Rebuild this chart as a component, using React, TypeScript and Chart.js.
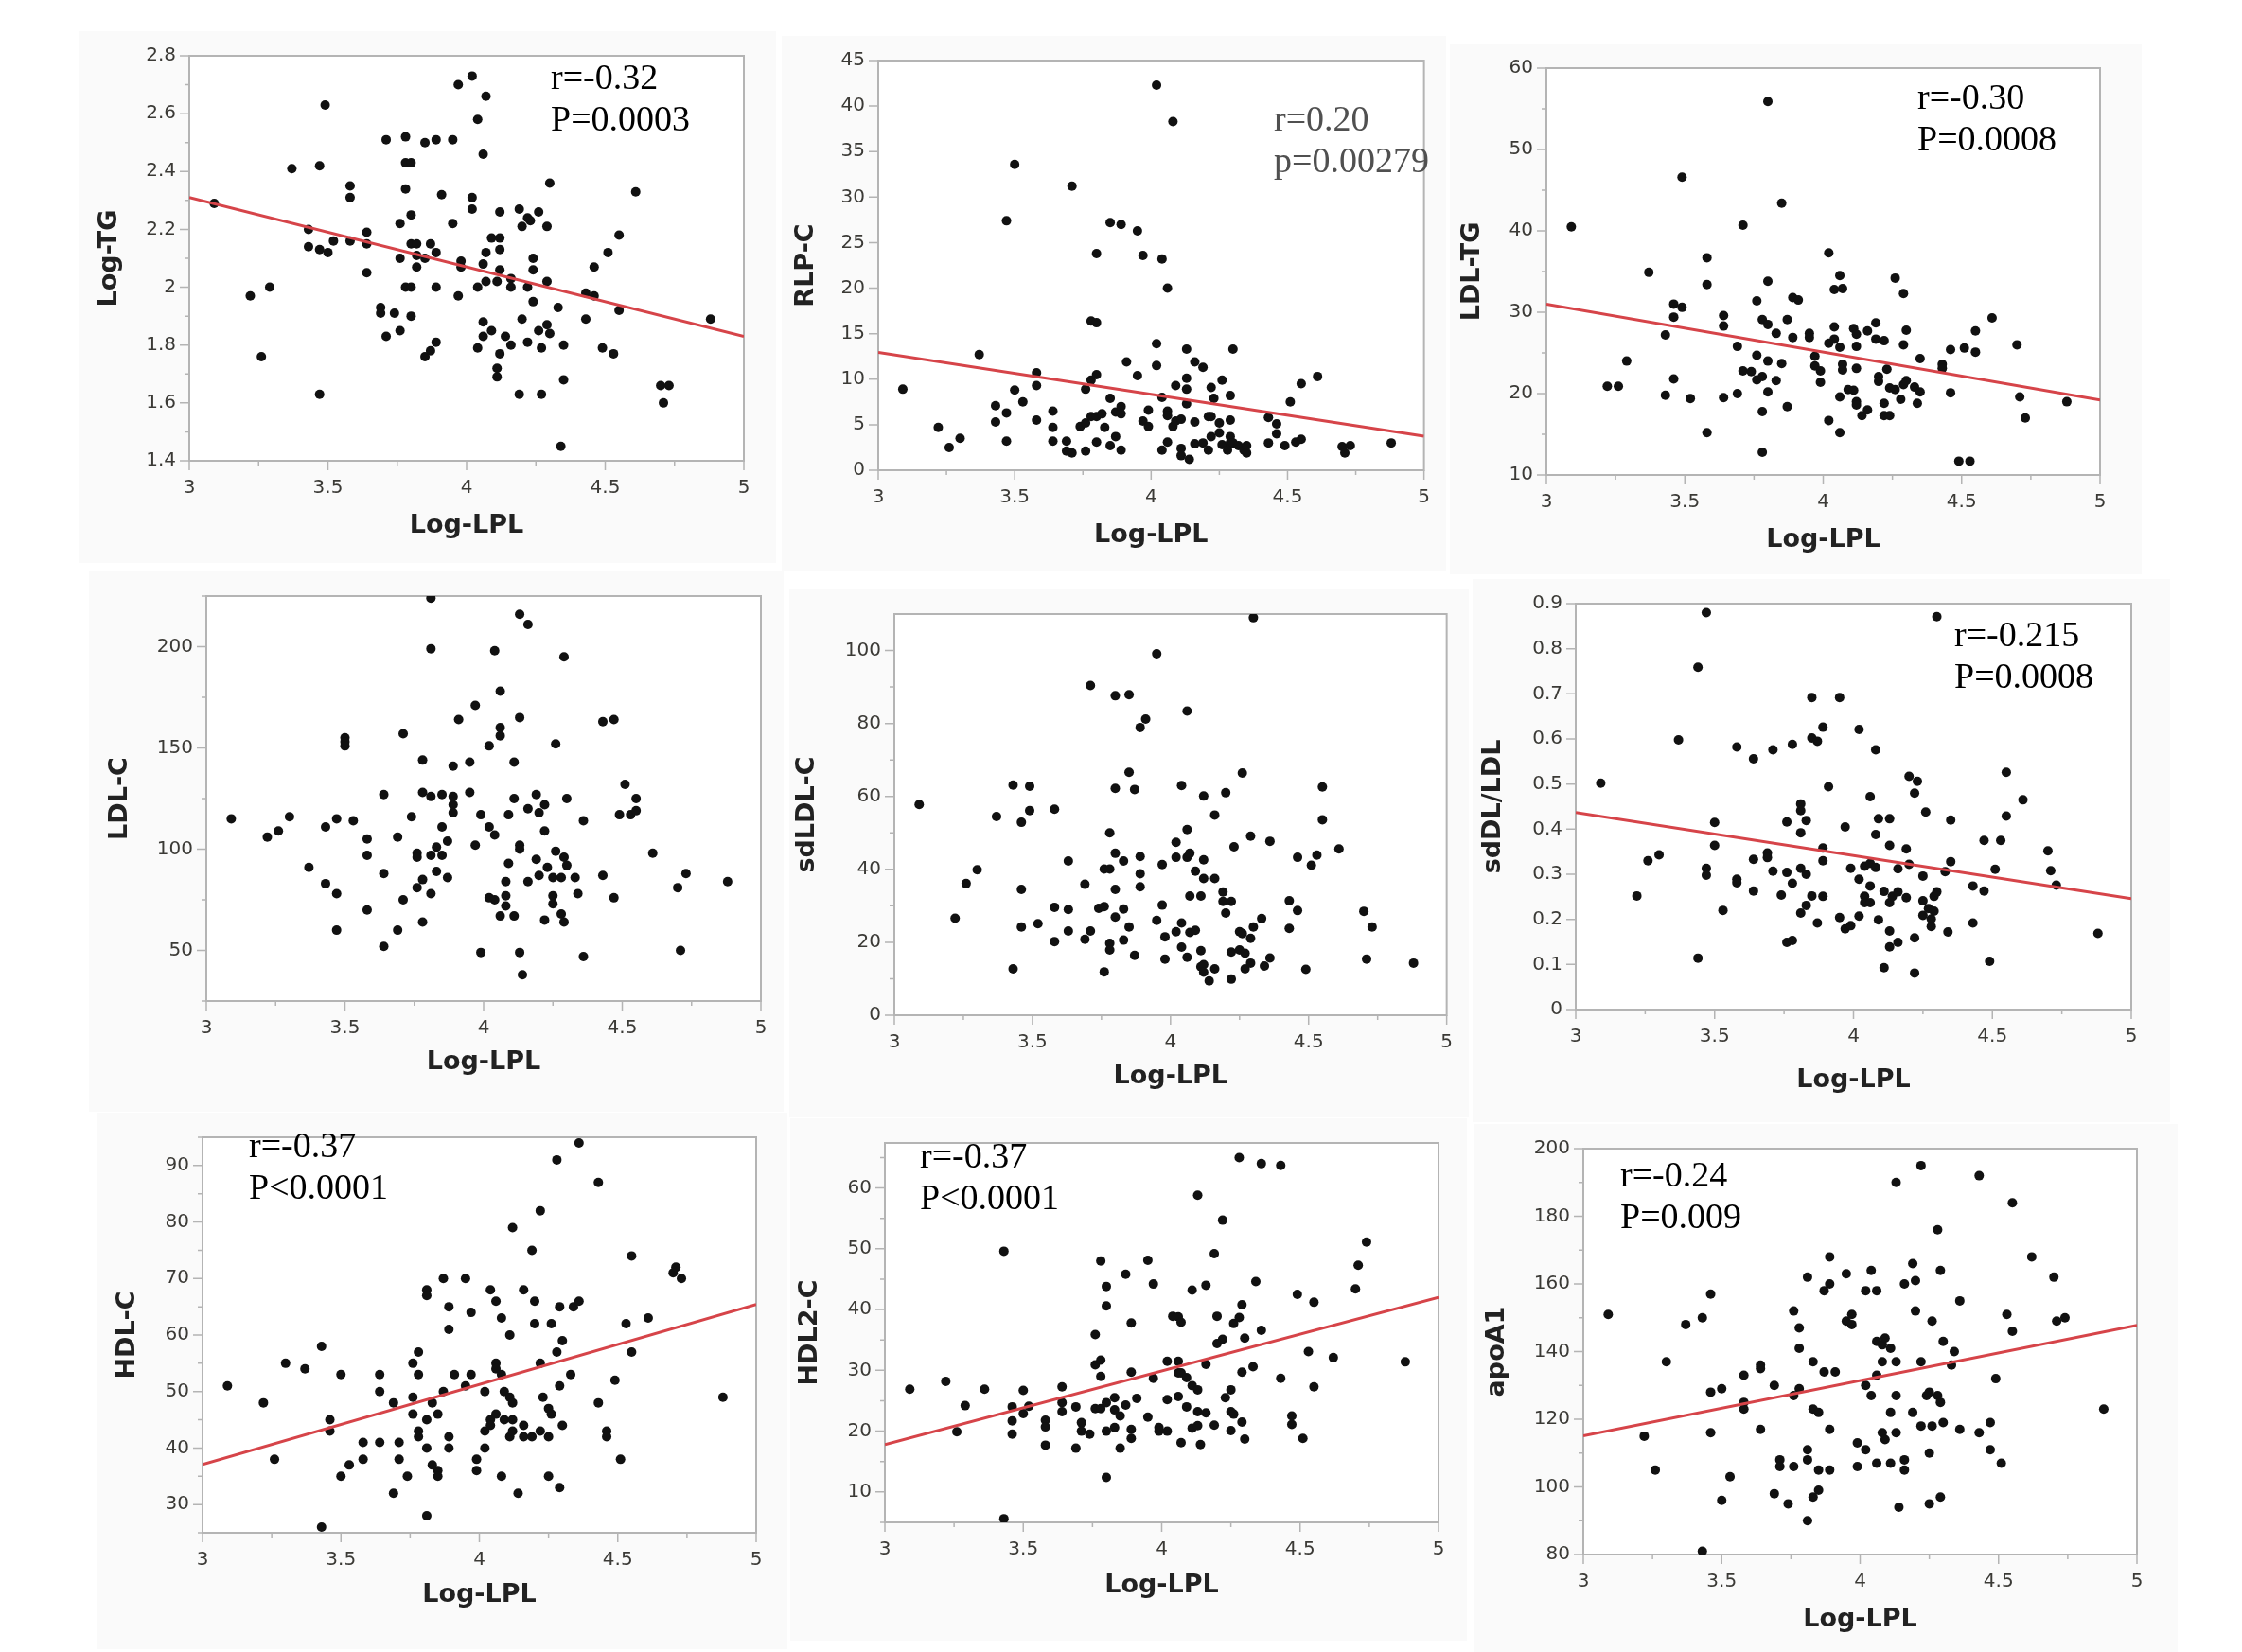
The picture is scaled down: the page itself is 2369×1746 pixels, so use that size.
import { useEffect, useRef } from "react";
import { Chart, registerables } from "chart.js";

Chart.register(...registerables);

type Pt = [number, number];

// shared x axis (Log-LPL)
const lplRange = [3, 5];
const lplMajor = [3, 3.5, 4, 4.5, 5];
const lplMinor = [3.25, 3.75, 4.25, 4.75];

// ---- Log-TG ----
const logTgPoints: Pt[] = [
  [3.09, 2.29], [3.22, 1.97], [3.26, 1.76], [3.29, 2.0], [3.37, 2.41], [3.43, 2.2], [3.43, 2.14], [3.47, 2.42], [3.47, 2.13], [3.47, 1.63],
  [3.49, 2.63], [3.5, 2.12], [3.52, 2.16], [3.58, 2.35], [3.58, 2.31], [3.58, 2.16], [3.64, 2.19], [3.64, 2.15], [3.64, 2.05], [3.69, 1.93],
  [3.69, 1.91], [3.71, 2.51], [3.71, 1.83], [3.74, 1.91], [3.76, 2.22], [3.76, 2.1], [3.76, 1.85], [3.78, 2.52], [3.78, 2.43], [3.78, 2.34],
  [3.78, 2.0], [3.8, 2.43], [3.8, 2.25], [3.8, 2.15], [3.8, 2.0], [3.8, 1.9], [3.82, 2.15], [3.82, 2.11], [3.82, 2.07], [3.85, 2.5],
  [3.85, 2.1], [3.85, 1.76], [3.87, 2.15], [3.87, 1.78], [3.89, 2.51], [3.89, 2.12], [3.89, 2.0], [3.89, 1.81], [3.91, 2.32], [3.95, 2.51],
  [3.95, 2.22], [3.97, 2.7], [3.97, 1.97], [3.98, 2.09], [3.98, 2.07], [4.02, 2.73], [4.02, 2.31], [4.02, 2.27], [4.04, 2.58], [4.04, 2.0],
  [4.04, 1.79], [4.06, 2.46], [4.06, 2.08], [4.06, 1.88], [4.06, 1.83], [4.07, 2.66], [4.07, 2.12], [4.07, 2.02], [4.09, 2.17], [4.09, 1.85],
  [4.11, 2.02], [4.11, 1.72], [4.11, 1.69], [4.12, 2.26], [4.12, 2.17], [4.12, 2.13], [4.12, 2.06], [4.12, 1.77], [4.14, 1.83], [4.16, 2.03],
  [4.16, 2.0], [4.16, 1.8], [4.19, 2.27], [4.19, 1.63], [4.2, 2.21], [4.2, 1.89], [4.22, 2.24], [4.22, 2.0], [4.22, 1.81], [4.23, 2.23],
  [4.24, 2.1], [4.24, 2.06], [4.24, 1.95], [4.26, 2.26], [4.26, 1.85], [4.27, 1.79], [4.27, 1.63], [4.29, 2.21], [4.29, 2.02], [4.29, 1.87],
  [4.3, 2.36], [4.3, 1.84], [4.33, 1.93], [4.34, 1.45], [4.35, 1.8], [4.35, 1.68], [4.43, 1.98], [4.43, 1.89], [4.46, 2.07], [4.46, 1.97],
  [4.49, 1.79], [4.51, 2.12], [4.53, 1.77], [4.55, 2.18], [4.55, 1.92], [4.61, 2.33], [4.7, 1.66], [4.71, 1.6], [4.73, 1.66], [4.88, 1.89],
];
const logTgFit = [2.31, 1.83];
const logTgMajor = [1.4, 1.6, 1.8, 2, 2.2, 2.4, 2.6, 2.8];
const logTgMinor = [1.5, 1.7, 1.9, 2.1, 2.3, 2.5, 2.7];

// ---- RLP-C ----
const rlpPoints: Pt[] = [
  [3.09, 8.9], [3.22, 4.7], [3.26, 2.5], [3.3, 3.5], [3.37, 12.7], [3.43, 7.1], [3.43, 5.3], [3.47, 27.4], [3.47, 6.3], [3.47, 3.2],
  [3.5, 33.6], [3.5, 8.8], [3.53, 7.5], [3.58, 10.7], [3.58, 9.3], [3.58, 5.5], [3.64, 6.5], [3.64, 4.7], [3.64, 3.2], [3.69, 3.2],
  [3.69, 2.1], [3.71, 31.2], [3.71, 1.9], [3.74, 4.8], [3.76, 8.9], [3.76, 5.2], [3.76, 2.1], [3.78, 5.9], [3.78, 16.4], [3.78, 9.9],
  [3.8, 23.8], [3.8, 16.2], [3.8, 10.5], [3.8, 5.9], [3.8, 3.1], [3.82, 6.2], [3.83, 4.7], [3.85, 27.2], [3.85, 7.9], [3.85, 2.7],
  [3.87, 3.7], [3.87, 6.4], [3.89, 27.0], [3.89, 7.0], [3.89, 6.2], [3.89, 2.2], [3.91, 11.9], [3.95, 26.3], [3.95, 10.4], [3.97, 23.6],
  [3.97, 5.4], [3.99, 6.6], [3.99, 4.8], [4.02, 42.3], [4.02, 13.9], [4.02, 11.5], [4.04, 23.2], [4.04, 8.0], [4.04, 2.2], [4.06, 20.0],
  [4.06, 6.5], [4.06, 6.0], [4.06, 3.1], [4.08, 38.3], [4.08, 4.8], [4.09, 9.3], [4.09, 5.4], [4.11, 5.6], [4.11, 2.4], [4.11, 1.6],
  [4.13, 13.3], [4.13, 10.1], [4.13, 8.9], [4.13, 7.3], [4.14, 1.2], [4.16, 11.9], [4.16, 5.3], [4.16, 2.9], [4.19, 11.3], [4.19, 3.0],
  [4.21, 2.2], [4.21, 5.9], [4.22, 9.1], [4.22, 5.9], [4.22, 3.7], [4.23, 7.9], [4.25, 5.2], [4.25, 4.1], [4.26, 9.9], [4.26, 2.8],
  [4.28, 2.2], [4.29, 8.2], [4.29, 5.5], [4.29, 3.7], [4.29, 3.0], [4.3, 13.3], [4.3, 3.0], [4.32, 2.7], [4.34, 2.2], [4.35, 2.7],
  [4.35, 1.9], [4.43, 5.8], [4.43, 3.0], [4.46, 5.1], [4.46, 4.0], [4.49, 2.7], [4.51, 7.5], [4.53, 3.1], [4.55, 9.5], [4.55, 3.4],
  [4.61, 10.3], [4.7, 2.6], [4.71, 1.9], [4.73, 2.7], [4.88, 3.0],
];
const rlpFit = [12.95, 3.75];
const rlpMajor = [0, 5, 10, 15, 20, 25, 30, 35, 40, 45];
const rlpMinor: number[] = [];

// ---- LDL-TG ----
const ldlTgPoints: Pt[] = [
  [3.09, 40.5], [3.22, 20.9], [3.26, 20.9], [3.29, 24.0], [3.37, 34.9], [3.43, 27.2], [3.43, 19.8], [3.46, 31.0], [3.46, 29.4], [3.46, 21.8],
  [3.49, 46.6], [3.49, 30.6], [3.52, 19.4], [3.58, 36.7], [3.58, 33.4], [3.58, 15.2], [3.64, 29.6], [3.64, 28.3], [3.64, 19.5], [3.69, 25.8],
  [3.69, 20.0], [3.71, 40.7], [3.71, 22.8], [3.74, 22.7], [3.76, 31.4], [3.76, 24.7], [3.76, 21.7], [3.78, 29.1], [3.78, 22.1], [3.78, 17.8],
  [3.78, 12.8], [3.8, 55.9], [3.8, 33.8], [3.8, 28.5], [3.8, 24.0], [3.8, 20.2], [3.83, 27.4], [3.83, 21.6], [3.85, 43.4], [3.85, 23.7],
  [3.87, 29.1], [3.87, 18.4], [3.89, 31.8], [3.89, 26.9], [3.91, 31.5], [3.95, 27.4], [3.95, 26.9], [3.97, 24.6], [3.97, 23.4], [3.99, 22.8],
  [3.99, 21.4], [4.02, 37.3], [4.02, 26.2], [4.02, 16.7], [4.04, 32.8], [4.04, 28.2], [4.04, 26.7], [4.06, 34.5], [4.06, 25.7], [4.06, 19.6],
  [4.06, 15.2], [4.07, 32.9], [4.07, 23.6], [4.07, 22.9], [4.09, 20.5], [4.11, 28.0], [4.11, 20.4], [4.12, 27.3], [4.12, 25.8], [4.12, 23.1],
  [4.12, 19.0], [4.12, 18.6], [4.14, 17.3], [4.16, 27.7], [4.16, 18.0], [4.19, 28.7], [4.19, 26.7], [4.2, 22.1], [4.2, 21.5], [4.22, 26.5],
  [4.22, 18.8], [4.22, 17.3], [4.23, 23.0], [4.24, 20.7], [4.24, 17.3], [4.26, 34.2], [4.26, 20.5], [4.28, 19.3], [4.29, 32.3], [4.29, 26.0],
  [4.29, 21.1], [4.3, 27.8], [4.3, 21.6], [4.33, 20.8], [4.34, 18.8], [4.35, 24.3], [4.35, 20.2], [4.43, 23.6], [4.43, 23.1], [4.46, 25.4],
  [4.46, 20.1], [4.49, 11.7], [4.51, 25.6], [4.53, 11.7], [4.55, 27.7], [4.55, 25.1], [4.61, 29.3], [4.7, 26.0], [4.71, 19.6], [4.73, 17.0],
  [4.88, 19.0],
];
const ldlTgFit = [31.0, 19.2];
const ldlTgMajor = [10, 20, 30, 40, 50, 60];
const ldlTgMinor = [15, 25, 35, 45, 55];

// ---- LDL-C ----
const ldlCPoints: Pt[] = [
  [3.09, 115], [3.22, 106], [3.26, 109], [3.3, 116], [3.37, 91], [3.43, 111], [3.43, 83], [3.47, 115], [3.47, 78], [3.47, 60],
  [3.5, 155], [3.5, 153], [3.5, 151], [3.53, 114], [3.58, 105], [3.58, 97], [3.58, 70], [3.64, 127], [3.64, 88], [3.64, 52],
  [3.69, 106], [3.69, 60], [3.71, 157], [3.71, 75], [3.74, 116], [3.76, 98], [3.76, 96], [3.76, 81], [3.78, 144], [3.78, 128],
  [3.78, 85], [3.78, 64], [3.81, 199], [3.81, 224], [3.81, 126], [3.81, 97], [3.81, 78], [3.83, 101], [3.83, 89], [3.85, 127],
  [3.85, 111], [3.85, 97], [3.87, 104], [3.87, 86], [3.89, 141], [3.89, 126], [3.89, 122], [3.89, 118], [3.91, 164], [3.95, 143],
  [3.95, 128], [3.97, 171], [3.97, 102], [3.99, 117], [3.99, 49], [4.02, 151], [4.02, 111], [4.02, 76], [4.04, 198], [4.04, 107],
  [4.04, 75], [4.06, 178], [4.06, 160], [4.06, 156], [4.06, 67], [4.08, 84], [4.08, 77], [4.08, 72], [4.09, 117], [4.09, 93],
  [4.11, 143], [4.11, 125], [4.11, 67], [4.13, 216], [4.13, 165], [4.13, 102], [4.13, 100], [4.13, 49], [4.14, 38], [4.16, 211],
  [4.16, 120], [4.16, 84], [4.19, 127], [4.19, 95], [4.2, 118], [4.2, 87], [4.22, 122], [4.22, 109], [4.22, 65], [4.23, 91],
  [4.25, 86], [4.25, 77], [4.25, 73], [4.26, 152], [4.26, 99], [4.28, 86], [4.28, 68], [4.29, 195], [4.29, 96], [4.29, 64],
  [4.3, 125], [4.3, 92], [4.33, 86], [4.34, 78], [4.36, 114], [4.36, 47], [4.43, 163], [4.43, 87], [4.47, 164], [4.47, 76],
  [4.49, 117], [4.51, 132], [4.53, 117], [4.55, 125], [4.55, 119], [4.61, 98], [4.7, 81], [4.71, 50], [4.73, 88], [4.88, 84],
];
const ldlCMajor = [50, 100, 150, 200];
const ldlCMinor = [25, 75, 125, 175, 225];

// ---- sdLDL-C ----
const sdLdlPoints: Pt[] = [
  [3.09, 57.8], [3.22, 26.6], [3.26, 36.1], [3.3, 39.9], [3.37, 54.5], [3.43, 63.1], [3.43, 12.7], [3.46, 52.9], [3.46, 34.5], [3.46, 24.2],
  [3.49, 62.8], [3.49, 56.1], [3.52, 25.1], [3.58, 56.5], [3.58, 29.6], [3.58, 20.2], [3.63, 42.3], [3.63, 29.0], [3.63, 23.1], [3.69, 35.9],
  [3.69, 20.8], [3.71, 90.4], [3.71, 23.1], [3.74, 29.3], [3.76, 40.1], [3.76, 29.8], [3.76, 11.9], [3.78, 50.0], [3.78, 40.1], [3.78, 19.7],
  [3.78, 17.9], [3.8, 87.6], [3.8, 62.2], [3.8, 44.4], [3.8, 34.5], [3.8, 26.9], [3.83, 42.3], [3.83, 29.1], [3.83, 20.6], [3.85, 87.9],
  [3.85, 66.6], [3.85, 24.2], [3.87, 61.9], [3.87, 16.4], [3.89, 78.9], [3.89, 43.5], [3.89, 38.8], [3.89, 35.2], [3.91, 81.2], [3.95, 99.1],
  [3.95, 26.0], [3.97, 41.3], [3.97, 30.2], [3.98, 21.5], [3.98, 15.4], [4.02, 47.4], [4.02, 43.3], [4.02, 22.9], [4.04, 63.0], [4.04, 25.3],
  [4.04, 18.7], [4.06, 83.4], [4.06, 50.9], [4.06, 43.3], [4.06, 15.9], [4.07, 44.4], [4.07, 32.7], [4.07, 22.7], [4.09, 39.5], [4.09, 23.3],
  [4.11, 32.7], [4.11, 17.7], [4.11, 13.3], [4.12, 60.1], [4.12, 42.6], [4.12, 37.5], [4.12, 13.9], [4.12, 11.8], [4.14, 9.4], [4.16, 54.9],
  [4.16, 37.5], [4.16, 12.7], [4.19, 33.8], [4.19, 31.2], [4.2, 61.0], [4.2, 28.0], [4.22, 31.2], [4.22, 17.3], [4.22, 9.9], [4.23, 46.2],
  [4.25, 22.9], [4.25, 17.9], [4.26, 66.4], [4.26, 22.4], [4.27, 17.0], [4.27, 12.7], [4.29, 49.1], [4.29, 21.1], [4.29, 14.3], [4.3, 24.2],
  [4.3, 109.0], [4.33, 26.5], [4.34, 13.5], [4.36, 47.7], [4.36, 15.7], [4.43, 31.4], [4.43, 23.8], [4.46, 43.3], [4.46, 28.7], [4.49, 12.6],
  [4.51, 41.1], [4.53, 43.9], [4.55, 62.6], [4.55, 53.6], [4.61, 45.6], [4.7, 28.5], [4.71, 15.4], [4.73, 24.2], [4.88, 14.3],
];
const sdLdlMajor = [0, 20, 40, 60, 80, 100];
const sdLdlMinor = [10, 30, 50, 70, 90];

// ---- sdDL/LDL ----
const ratioPoints: Pt[] = [
  [3.09, 0.502], [3.22, 0.252], [3.26, 0.33], [3.3, 0.343], [3.37, 0.598], [3.44, 0.759], [3.44, 0.114], [3.47, 0.88], [3.47, 0.313], [3.47, 0.298],
  [3.5, 0.415], [3.5, 0.364], [3.53, 0.22], [3.58, 0.582], [3.58, 0.289], [3.58, 0.281], [3.64, 0.556], [3.64, 0.333], [3.64, 0.263], [3.69, 0.347],
  [3.69, 0.337], [3.71, 0.576], [3.71, 0.307], [3.74, 0.254], [3.76, 0.416], [3.76, 0.304], [3.76, 0.149], [3.78, 0.588], [3.78, 0.28], [3.78, 0.153],
  [3.81, 0.456], [3.81, 0.441], [3.81, 0.392], [3.81, 0.313], [3.81, 0.214], [3.83, 0.419], [3.83, 0.3], [3.83, 0.231], [3.85, 0.692], [3.85, 0.602],
  [3.85, 0.252], [3.87, 0.595], [3.87, 0.192], [3.89, 0.626], [3.89, 0.358], [3.89, 0.33], [3.89, 0.251], [3.91, 0.494], [3.95, 0.692], [3.95, 0.204],
  [3.97, 0.405], [3.97, 0.179], [3.99, 0.313], [3.99, 0.186], [4.02, 0.621], [4.02, 0.289], [4.02, 0.207], [4.04, 0.318], [4.04, 0.251], [4.04, 0.237],
  [4.06, 0.472], [4.06, 0.324], [4.06, 0.274], [4.06, 0.237], [4.08, 0.576], [4.08, 0.388], [4.08, 0.315], [4.09, 0.423], [4.09, 0.199], [4.11, 0.262],
  [4.11, 0.093], [4.13, 0.423], [4.13, 0.364], [4.13, 0.237], [4.13, 0.174], [4.13, 0.139], [4.14, 0.251], [4.16, 0.312], [4.16, 0.261], [4.16, 0.149],
  [4.19, 0.356], [4.19, 0.248], [4.2, 0.517], [4.2, 0.322], [4.22, 0.48], [4.22, 0.159], [4.22, 0.081], [4.23, 0.506], [4.25, 0.296], [4.25, 0.241],
  [4.25, 0.209], [4.26, 0.438], [4.27, 0.224], [4.28, 0.201], [4.28, 0.184], [4.29, 0.251], [4.29, 0.218], [4.3, 0.871], [4.3, 0.261], [4.33, 0.306],
  [4.34, 0.172], [4.35, 0.42], [4.35, 0.328], [4.43, 0.274], [4.43, 0.192], [4.47, 0.375], [4.47, 0.263], [4.49, 0.107], [4.51, 0.311], [4.53, 0.375],
  [4.55, 0.526], [4.55, 0.429], [4.61, 0.465], [4.7, 0.352], [4.71, 0.308], [4.73, 0.276], [4.88, 0.169],
];
const ratioFit = [0.437, 0.246];
const ratioMajor = [0, 0.1, 0.2, 0.3, 0.4, 0.5, 0.6, 0.7, 0.8, 0.9];
const ratioMinor: number[] = [];

// ---- HDL-C ----
const hdlPoints: Pt[] = [
  [3.09, 51], [3.22, 48], [3.26, 38], [3.3, 55], [3.37, 54], [3.43, 58], [3.43, 26], [3.46, 45], [3.46, 43], [3.5, 53],
  [3.5, 35], [3.53, 37], [3.58, 41], [3.58, 38], [3.64, 53], [3.64, 50], [3.64, 41], [3.69, 48], [3.69, 32], [3.71, 41],
  [3.71, 38], [3.74, 35], [3.76, 55], [3.76, 49], [3.76, 46], [3.78, 57], [3.78, 53], [3.78, 43], [3.78, 42], [3.81, 68],
  [3.81, 67], [3.81, 45], [3.81, 40], [3.81, 28], [3.83, 48], [3.83, 37], [3.85, 36], [3.85, 46], [3.85, 35], [3.87, 70],
  [3.87, 50], [3.89, 65], [3.89, 61], [3.89, 42], [3.89, 40], [3.91, 53], [3.95, 70], [3.95, 51], [3.97, 64], [3.97, 53],
  [3.99, 38], [3.99, 36], [4.02, 50], [4.02, 43], [4.02, 40], [4.04, 68], [4.04, 45], [4.04, 44], [4.06, 66], [4.06, 55],
  [4.06, 54], [4.06, 46], [4.08, 63], [4.08, 53], [4.08, 35], [4.09, 45], [4.09, 50], [4.11, 60], [4.11, 49], [4.11, 42],
  [4.12, 79], [4.12, 48], [4.12, 45], [4.12, 43], [4.14, 32], [4.16, 44], [4.16, 42], [4.16, 68], [4.19, 75], [4.19, 42],
  [4.2, 66], [4.2, 62], [4.22, 82], [4.22, 55], [4.22, 43], [4.23, 49], [4.25, 47], [4.25, 42], [4.25, 35], [4.26, 46],
  [4.26, 62], [4.28, 91], [4.28, 57], [4.29, 65], [4.29, 51], [4.29, 33], [4.3, 59], [4.3, 44], [4.33, 53], [4.34, 65],
  [4.36, 94], [4.36, 66], [4.43, 87], [4.43, 48], [4.46, 43], [4.46, 42], [4.49, 52], [4.51, 38], [4.53, 62], [4.55, 74],
  [4.55, 57], [4.61, 63], [4.7, 71], [4.71, 72], [4.73, 70], [4.88, 49],
];
const hdlFit = [37.1, 65.4];
const hdlMajor = [30, 40, 50, 60, 70, 80, 90];
const hdlMinor = [25, 35, 45, 55, 65, 75, 85, 95];

// ---- HDL2-C ----
const hdl2Points: Pt[] = [
  [3.09, 26.9], [3.22, 28.2], [3.26, 19.9], [3.29, 24.2], [3.36, 26.9], [3.43, 49.6], [3.43, 5.6], [3.46, 24.0], [3.46, 21.7], [3.46, 19.5],
  [3.5, 26.7], [3.5, 22.9], [3.52, 24.1], [3.58, 21.8], [3.58, 20.7], [3.58, 17.7], [3.64, 27.3], [3.64, 24.7], [3.64, 23.2], [3.69, 24.0],
  [3.69, 17.2], [3.71, 21.4], [3.71, 20.0], [3.74, 19.5], [3.76, 35.9], [3.76, 30.9], [3.76, 23.7], [3.78, 48.0], [3.78, 31.7], [3.78, 29.0],
  [3.78, 23.7], [3.8, 43.8], [3.8, 40.6], [3.8, 24.7], [3.8, 20.0], [3.8, 12.4], [3.83, 25.5], [3.83, 23.5], [3.83, 20.6], [3.85, 22.5],
  [3.85, 17.2], [3.87, 45.8], [3.87, 24.3], [3.89, 37.8], [3.89, 29.7], [3.89, 20.3], [3.89, 18.8], [3.91, 25.4], [3.95, 48.1], [3.95, 22.3],
  [3.97, 44.2], [3.97, 28.7], [3.99, 20.6], [3.99, 20.0], [4.02, 31.5], [4.02, 25.2], [4.02, 20.0], [4.04, 38.9], [4.06, 38.8], [4.06, 31.5],
  [4.06, 29.6], [4.06, 25.7], [4.07, 37.9], [4.07, 29.6], [4.07, 18.1], [4.09, 28.8], [4.09, 24.0], [4.11, 43.2], [4.11, 27.5], [4.11, 20.5],
  [4.13, 58.8], [4.13, 26.8], [4.13, 23.2], [4.13, 20.9], [4.14, 17.8], [4.16, 44.0], [4.16, 31.0], [4.16, 23.0], [4.19, 49.2], [4.19, 21.0],
  [4.2, 38.9], [4.2, 34.4], [4.22, 54.7], [4.22, 35.1], [4.23, 25.5], [4.25, 26.8], [4.25, 23.2], [4.25, 20.1], [4.26, 37.7], [4.26, 22.8],
  [4.28, 65.0], [4.28, 38.7], [4.29, 40.8], [4.29, 29.7], [4.29, 21.5], [4.3, 35.3], [4.3, 18.7], [4.33, 30.6], [4.34, 44.6], [4.36, 64.0],
  [4.36, 36.6], [4.43, 28.7], [4.43, 63.7], [4.47, 22.5], [4.47, 21.1], [4.49, 42.5], [4.51, 18.8], [4.53, 33.1], [4.55, 41.2], [4.55, 27.3],
  [4.62, 32.1], [4.7, 43.4], [4.71, 47.3], [4.74, 51.1], [4.88, 31.4],
];
const hdl2Fit = [17.8, 42.0];
const hdl2Major = [10, 20, 30, 40, 50, 60];
const hdl2Minor = [5, 15, 25, 35, 45, 55, 65];

// ---- apoA1 ----
const apoA1Points: Pt[] = [
  [3.09, 151], [3.22, 115], [3.26, 105], [3.3, 137], [3.37, 148], [3.43, 150], [3.43, 81], [3.46, 157], [3.46, 128], [3.46, 116],
  [3.5, 129], [3.5, 96], [3.53, 103], [3.58, 133], [3.58, 125], [3.58, 123], [3.64, 136], [3.64, 135], [3.64, 117], [3.69, 130],
  [3.69, 98], [3.71, 108], [3.71, 106], [3.74, 95], [3.76, 152], [3.76, 127], [3.76, 106], [3.78, 147], [3.78, 141], [3.78, 129],
  [3.81, 162], [3.81, 111], [3.81, 108], [3.81, 90], [3.83, 137], [3.83, 123], [3.83, 97], [3.85, 122], [3.85, 105], [3.85, 99],
  [3.87, 158], [3.87, 134], [3.89, 168], [3.89, 160], [3.89, 117], [3.89, 105], [3.91, 134], [3.95, 163], [3.95, 149], [3.97, 151],
  [3.97, 148], [3.99, 113], [3.99, 106], [4.02, 158], [4.02, 130], [4.02, 111], [4.04, 164], [4.04, 127], [4.06, 158], [4.06, 143],
  [4.06, 133], [4.06, 107], [4.08, 142], [4.08, 137], [4.08, 116], [4.09, 144], [4.09, 114], [4.11, 141], [4.11, 122], [4.11, 107],
  [4.13, 190], [4.13, 137], [4.13, 127], [4.13, 116], [4.14, 94], [4.16, 160], [4.16, 108], [4.16, 105], [4.19, 166], [4.19, 122],
  [4.2, 161], [4.2, 152], [4.22, 195], [4.22, 137], [4.22, 118], [4.24, 127], [4.25, 95], [4.25, 110], [4.25, 128], [4.26, 149],
  [4.26, 118], [4.28, 176], [4.28, 127], [4.29, 164], [4.29, 125], [4.29, 97], [4.3, 143], [4.3, 119], [4.33, 136], [4.34, 140],
  [4.36, 155], [4.36, 117], [4.43, 192], [4.43, 116], [4.47, 119], [4.47, 111], [4.49, 132], [4.51, 107], [4.53, 151], [4.55, 184],
  [4.55, 146], [4.62, 168], [4.7, 162], [4.71, 149], [4.74, 150], [4.88, 123],
];
const apoA1Fit = [115.1, 147.8];
const apoA1Major = [80, 100, 120, 140, 160, 180, 200];
const apoA1Minor = [90, 110, 130, 150, 170, 190];

// ---- styling ----
const PANEL_BG = "#fafafa";
const FRAME = "#b4b4b4";
const TICK_COLOR = "#3b3a36";
const FIT_RED = "#d64449";
const TICK_FONT = { family: "'DejaVu Sans', sans-serif", size: 20 };
const TITLE_FONT = { family: "'DejaVu Sans', sans-serif", size: 27, weight: "bold" as const };
const TITLE_LH = 27 * 1.2;

interface Rect { x: number; y: number; w: number; h: number }
interface Box { l: number; t: number; r: number; b: number }
interface PanelSpec {
  yTitle: string;
  points: Pt[];
  fit?: number[];
  yMin: number;
  yMax: number;
  yMajor: number[];
  yMinor: number[];
  bg: Rect;
  box: Box;
  yTitleX: number;
  xTitleY: number;
  note?: { lines: string[]; x: number; y: number; color: string };
}

const panels: PanelSpec[] = [
  {
    yTitle: "Log-TG", points: logTgPoints, fit: logTgFit, yMin: 1.4, yMax: 2.8, yMajor: logTgMajor, yMinor: logTgMinor,
    bg: { x: 84, y: 33, w: 736, h: 562 }, box: { l: 200, t: 49, r: 786, b: 487 }, yTitleX: 116, xTitleY: 556,
    note: { lines: ["r=-0.32", "P=0.0003"], x: 582, y: 59, color: "#000" },
  },
  {
    yTitle: "RLP-C", points: rlpPoints, fit: rlpFit, yMin: 0, yMax: 45, yMajor: rlpMajor, yMinor: rlpMinor,
    bg: { x: 826, y: 38, w: 702, h: 566 }, box: { l: 928, t: 58, r: 1515, b: 497 }, yTitleX: 852, xTitleY: 566,
    note: { lines: ["r=0.20", "p=0.00279"], x: 1346, y: 103, color: "#505050" },
  },
  {
    yTitle: "LDL-TG", points: ldlTgPoints, fit: ldlTgFit, yMin: 10, yMax: 60, yMajor: ldlTgMajor, yMinor: ldlTgMinor,
    bg: { x: 1532, y: 46, w: 731, h: 561 }, box: { l: 1634, t: 64, r: 2219, b: 502 }, yTitleX: 1556, xTitleY: 571,
    note: { lines: ["r=-0.30", "P=0.0008"], x: 2026, y: 80, color: "#000" },
  },
  {
    yTitle: "LDL-C", points: ldlCPoints, yMin: 25, yMax: 225, yMajor: ldlCMajor, yMinor: ldlCMinor,
    bg: { x: 94, y: 604, w: 734, h: 571 }, box: { l: 218, t: 620, r: 804, b: 1058 }, yTitleX: 127, xTitleY: 1123,
  },
  {
    yTitle: "sdLDL-C", points: sdLdlPoints, yMin: 0, yMax: 110, yMajor: sdLdlMajor, yMinor: sdLdlMinor,
    bg: { x: 834, y: 623, w: 718, h: 558 }, box: { l: 945, t: 635, r: 1530, b: 1073 }, yTitleX: 853, xTitleY: 1138,
  },
  {
    yTitle: "sdDL/LDL", points: ratioPoints, fit: ratioFit, yMin: 0, yMax: 0.9, yMajor: ratioMajor, yMinor: ratioMinor,
    bg: { x: 1556, y: 612, w: 737, h: 574 }, box: { l: 1665, t: 628, r: 2252, b: 1067 }, yTitleX: 1578, xTitleY: 1142,
    note: { lines: ["r=-0.215", "P=0.0008"], x: 2065, y: 648, color: "#000" },
  },
  {
    yTitle: "HDL-C", points: hdlPoints, fit: hdlFit, yMin: 25, yMax: 95, yMajor: hdlMajor, yMinor: hdlMinor,
    bg: { x: 103, y: 1176, w: 729, h: 567 }, box: { l: 214, t: 1181, r: 799, b: 1620 }, yTitleX: 135, xTitleY: 1686,
    note: { lines: ["r=-0.37", "P<0.0001"], x: 263, y: 1188, color: "#000" },
  },
  {
    yTitle: "HDL2-C", points: hdl2Points, fit: hdl2Fit, yMin: 5, yMax: 67.4, yMajor: hdl2Major, yMinor: hdl2Minor,
    bg: { x: 835, y: 1182, w: 715, h: 552 }, box: { l: 935, t: 1187, r: 1520, b: 1609 }, yTitleX: 856, xTitleY: 1676,
    note: { lines: ["r=-0.37", "P<0.0001"], x: 972, y: 1199, color: "#000" },
  },
  {
    yTitle: "apoA1", points: apoA1Points, fit: apoA1Fit, yMin: 80, yMax: 200, yMajor: apoA1Major, yMinor: apoA1Minor,
    bg: { x: 1558, y: 1188, w: 743, h: 558 }, box: { l: 1673, t: 1203, r: 2258, b: 1643 }, yTitleX: 1582, xTitleY: 1712,
    note: { lines: ["r=-0.24", "P=0.009"], x: 1712, y: 1219, color: "#000" },
  },
];

const fmt = (v: number) => String(parseFloat(Number(v).toFixed(3)));

function framePlugin(p: PanelSpec) {
  return {
    id: "frame",
    beforeDraw(chart: Chart) {
      const { ctx, width, height, chartArea: a } = chart;
      ctx.save();
      ctx.fillStyle = PANEL_BG;
      ctx.fillRect(0, 0, width, height);
      ctx.fillStyle = "#ffffff";
      ctx.fillRect(a.left, a.top, a.right - a.left, a.bottom - a.top);
      ctx.restore();
    },
    beforeDatasetsDraw(chart: Chart) {
      const { ctx, chartArea: a, scales } = chart;
      ctx.save();
      ctx.strokeStyle = FRAME;
      ctx.lineWidth = 2;
      ctx.strokeRect(a.left, a.top, a.right - a.left, a.bottom - a.top);
      ctx.lineWidth = 1.5;
      ctx.beginPath();
      const xTick = (vals: number[], len: number) => vals.forEach((v) => {
        const px = scales.x.getPixelForValue(v);
        ctx.moveTo(px, a.bottom);
        ctx.lineTo(px, a.bottom + len);
      });
      const yTick = (vals: number[], len: number) => vals.forEach((v) => {
        const py = scales.y.getPixelForValue(v);
        ctx.moveTo(a.left - len, py);
        ctx.lineTo(a.left, py);
      });
      xTick(lplMajor, 10);
      xTick(lplMinor, 5);
      yTick(p.yMajor, 10);
      yTick(p.yMinor, 5);
      ctx.stroke();
      ctx.restore();
    },
  };
}

function ScatterPanel({ p }: { p: PanelSpec }) {
  const chartRef = useRef<HTMLCanvasElement>(null);

  useEffect(() => {
    if (!chartRef.current) return;
    const datasets: any[] = [];
    if (p.fit) {
      datasets.push({
        data: lplRange.map((x, i) => ({ x, y: p.fit![i] })),
        showLine: true,
        borderColor: FIT_RED,
        borderWidth: 3,
        pointRadius: 0,
        fill: false,
      });
    }
    datasets.push({
      data: p.points.map(([x, y]) => ({ x, y })),
      pointRadius: 5,
      pointBackgroundColor: "#111111",
      pointBorderWidth: 0,
      showLine: false,
    });

    const chart = new Chart(chartRef.current, {
      type: "scatter",
      data: { datasets },
      options: {
        responsive: false,
        animation: false,
        layout: {
          padding: { left: 0, bottom: 0, top: p.box.t - p.bg.y, right: p.bg.x + p.bg.w - p.box.r },
        },
        plugins: { legend: { display: false }, tooltip: { enabled: false } },
        scales: {
          x: {
            type: "linear",
            min: 3,
            max: 5,
            afterBuildTicks: (s: any) => { s.ticks = lplMajor.map((v) => ({ value: v })); },
            afterFit: (s: any) => { s.height = p.bg.y + p.bg.h - p.box.b; },
            grid: { display: false, drawTicks: false },
            border: { display: false },
            ticks: {
              autoSkip: false, maxRotation: 0, minRotation: 0, padding: 17,
              color: TICK_COLOR, font: TICK_FONT, callback: (v: any) => fmt(v),
            },
            title: {
              display: true, text: "Log-LPL", color: "#222", font: TITLE_FONT,
              padding: { top: 0, bottom: p.bg.y + p.bg.h - p.xTitleY - TITLE_LH / 2 },
            },
          },
          y: {
            type: "linear",
            min: p.yMin,
            max: p.yMax,
            afterBuildTicks: (s: any) => { s.ticks = p.yMajor.map((v) => ({ value: v })); },
            afterFit: (s: any) => { s.width = p.box.l - p.bg.x; },
            grid: { display: false, drawTicks: false },
            border: { display: false },
            ticks: { autoSkip: false, padding: 14, color: TICK_COLOR, font: TICK_FONT, callback: (v: any) => fmt(v) },
            title: {
              display: true, text: p.yTitle, color: "#222", font: TITLE_FONT,
              padding: { top: p.yTitleX - p.bg.x - TITLE_LH / 2, bottom: 0 },
            },
          },
        },
      },
      plugins: [framePlugin(p)],
    } as any);

    return () => chart.destroy();
  }, [p]);

  return (
    <>
      <canvas
        ref={chartRef}
        width={p.bg.w}
        height={p.bg.h}
        style={{ position: "absolute", left: p.bg.x, top: p.bg.y, width: p.bg.w, height: p.bg.h }}
      />
      {p.note && (
        <div
          style={{
            position: "absolute", left: p.note.x, top: p.note.y, color: p.note.color,
            fontFamily: "'Liberation Serif', 'Times New Roman', serif", fontSize: 38, lineHeight: "44px",
            whiteSpace: "nowrap",
          }}
        >
          {p.note.lines.map((l) => <div key={l}>{l}</div>)}
        </div>
      )}
    </>
  );
}

export default function App() {
  return (
    <div style={{ position: "absolute", left: 0, top: 0, width: 2369, height: 1746, background: "#ffffff", overflow: "hidden" }}>
      {panels.map((p) => <ScatterPanel key={p.yTitle} p={p} />)}
    </div>
  );
}
